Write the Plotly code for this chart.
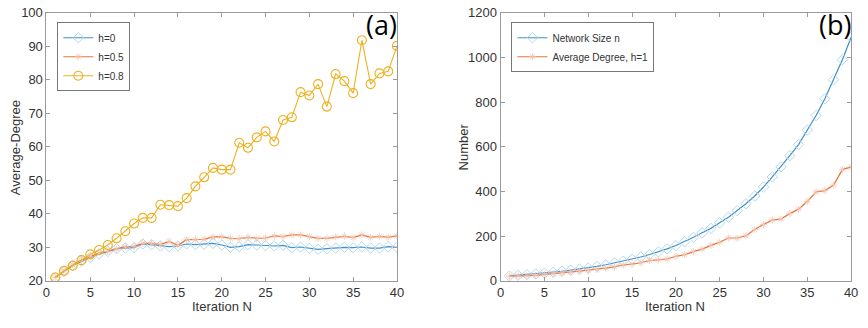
import plotly.graph_objects as go

iters = list(range(1, 41))

h0 = [21, 22.8, 24.6, 25.8, 27.0, 28.0, 28.8, 29.6, 29.8, 29.9,
      31.0, 30.8, 30.4, 30.2, 30.4, 31.0, 30.8, 30.9, 31.2, 30.7,
      30.0, 30.2, 30.8, 30.7, 30.5, 30.4, 30.6, 29.9, 30.1, 29.7,
      29.4, 29.6, 29.8, 30.0, 29.9, 30.1, 29.8, 29.8, 30.2, 30.0]
h05 = [21, 23.0, 24.8, 26.2, 27.2, 28.3, 28.8, 29.5, 30.2, 30.3,
       31.2, 31.2, 30.8, 31.8, 30.6, 32.3, 32.3, 32.4, 33.1, 33.2,
       32.7, 32.6, 33.0, 32.7, 32.8, 33.4, 33.2, 33.7, 33.7, 33.2,
       32.7, 32.7, 33.1, 33.3, 32.9, 33.7, 33.0, 33.3, 33.0, 33.4]
h08 = [21, 23, 24.5, 26.2, 27.9, 29.2, 30.7, 32.7, 34.8, 37.1,
       38.8, 38.8, 42.7, 42.6, 42.3, 44.7, 48.2, 50.9, 53.7, 53.2,
       53.2, 61.2, 59.7, 62.8, 64.6, 61.6, 68.0, 68.8, 76.3, 75.3,
       78.7, 72.0, 81.7, 79.6, 76.0, 91.8, 78.7, 81.9, 82.5, 90.1]

net_size = [22, 25, 28, 31, 35, 39, 43, 48, 53, 58,
            65, 72, 80, 88, 97, 107, 118, 130, 143, 158,
            175, 195, 215, 235, 260, 285, 315, 345, 380, 420,
            465, 510, 560, 610, 675, 740, 815, 900, 990, 1090]
avg_deg_h1 = [21, 22, 23, 25, 29, 32, 36, 40, 44, 48,
              51, 57, 63, 71, 75, 81, 91, 94, 98, 110,
              117, 131, 142, 159, 173, 192, 192, 202, 230, 252,
              272, 277, 301, 321, 355, 398, 404, 429, 498, 510]

BLUE_L = "#3f8fcc"
BLUE_M = "#b3d8ec"
ORANGE_L = "#e0743f"
ORANGE_M = "#f5c3ad"
YELLOW = "#EDB120"
FONT = "Liberation Sans, Arial, sans-serif"
TXT = "#333333"
AX = "#9a9a9a"

fig = go.Figure()

def blue(x, y, name, xa, ya, lg):
    return go.Scatter(x=x, y=y, name=name, mode="lines+markers",
                      line=dict(color=BLUE_L, width=1.2),
                      marker=dict(symbol="diamond-open", size=8,
                                  color=BLUE_M, line=dict(width=1)),
                      xaxis=xa, yaxis=ya, legend=lg)

def orange(x, y, name, xa, ya, lg):
    return go.Scatter(x=x, y=y, name=name, mode="lines+markers",
                      line=dict(color=ORANGE_L, width=1.2),
                      marker=dict(symbol="asterisk-open", size=6,
                                  color=ORANGE_M, line=dict(width=0.8, color=ORANGE_M)),
                      xaxis=xa, yaxis=ya, legend=lg)

fig.add_trace(blue(iters, h0, "h=0", "x", "y", "legend"))
fig.add_trace(orange(iters, h05, "h=0.5", "x", "y", "legend"))
fig.add_trace(go.Scatter(x=iters, y=h08, name="h=0.8", mode="lines+markers",
                         line=dict(color=YELLOW, width=1.1),
                         marker=dict(symbol="circle-open", size=9,
                                     color=YELLOW, line=dict(width=1.1)),
                         xaxis="x", yaxis="y", legend="legend"))
fig.add_trace(blue(iters, net_size, "Network Size n", "x2", "y2", "legend2"))
fig.add_trace(orange(iters, avg_deg_h1, "Average Degree, h=1", "x2", "y2", "legend2"))

axis_common = dict(showline=True, linecolor=AX, linewidth=1, mirror="ticks",
                   ticks="inside", ticklen=4, tickcolor=AX, showgrid=False,
                   zeroline=False, ticklabeloverflow="allow",
                   tickfont=dict(family=FONT, size=13, color=TXT))

ydom = [1 - 287 / 328, 1 - 6 / 328]
xdom1 = [43 / 868, 398 / 868]
xdom2 = [503 / 868, 858 / 868]

legend_common = dict(yanchor="top", xanchor="left", bgcolor="white",
                     bordercolor="#777777", borderwidth=1,
                     font=dict(family=FONT, size=10, color=TXT),
                     tracegroupgap=0, itemwidth=30)

def title_ann(text, x, y, angle=0):
    return dict(text=text, x=x / 868, y=1 - y / 328, xref="paper", yref="paper",
                xanchor="center", yanchor="middle", showarrow=False, textangle=angle,
                font=dict(family=FONT, size=13, color=TXT))

def panel_label(text, x, y):
    return dict(text=text, x=x / 868, y=1 - y / 328, xref="paper", yref="paper",
                xanchor="right", yanchor="middle", showarrow=False,
                font=dict(family="Open Sans, sans-serif", size=27, color="black"))

fig.update_layout(
    width=868, height=328,
    margin=dict(l=0, r=0, t=0, b=0),
    paper_bgcolor="white", plot_bgcolor="white",
    font=dict(family=FONT, color=TXT),
    showlegend=True,
    xaxis=dict(domain=xdom1, range=[0, 40], dtick=5, anchor="y", **axis_common),
    yaxis=dict(domain=ydom, range=[20, 100], dtick=10, anchor="x", **axis_common),
    xaxis2=dict(domain=xdom2, range=[0, 40], dtick=5, anchor="y2", **axis_common),
    yaxis2=dict(domain=ydom, range=[0, 1200], dtick=200, anchor="x2", **axis_common),
    legend=dict(x=54 / 868, y=1 - 16 / 328, **legend_common),
    legend2=dict(x=514 / 868, y=1 - 16 / 328, **legend_common),
    annotations=[
        title_ann("Iteration N", 221, 314),
        title_ann("Iteration N", 680, 314),
        title_ann("Average-Degree", 11, 147, -90),
        title_ann("Number", 465, 147, -90),
        panel_label("(a)", 400, 18),
        panel_label("(b)", 860, 18),
    ],
)

fig.write_html("out.html")
